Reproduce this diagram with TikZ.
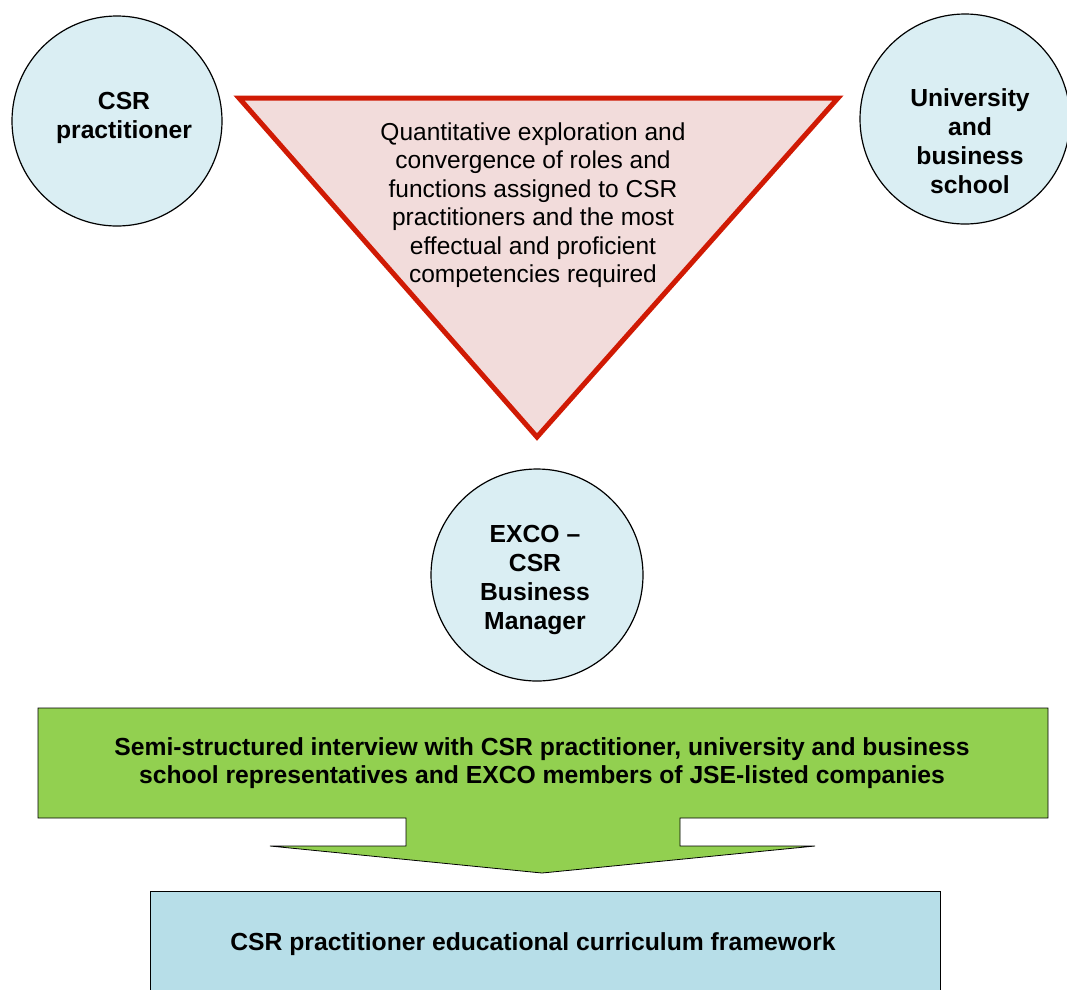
\documentclass[tikz,border=0pt]{standalone}
\usepackage{fontspec}
\setmainfont{Liberation Sans}
\definecolor{circfill}{HTML}{DAEEF3}
\definecolor{trifill}{HTML}{F2DCDB}
\definecolor{trired}{HTML}{D01A04}
\definecolor{greenfill}{HTML}{92D050}
\definecolor{bluefill}{HTML}{B7DEE8}
\begin{document}
\begin{tikzpicture}[x=1pt,y=-1pt,
  actor/.style={circle,draw=black,line width=1.2pt,fill=circfill,minimum size=210pt,inner sep=0pt},
  actortext/.style={align=center,inner sep=0pt,font=\fontsize{24.7}{29}\selectfont\bfseries},
  tritext/.style={align=center,font=\fontsize{24.5}{28.5}\selectfont},
  boxtext/.style={align=center,font=\fontsize{24.7}{28}\selectfont\bfseries}]
\useasboundingbox (0,0) rectangle (1067,989);
% circles
\node[actor] (csr) at (117,121) {};
\node[actortext] (csrtext) at (124,118) {CSR\\practitioner};
\node[actor] (uni) at (965,119) {};
\node[actortext] (unitext) at (970,141) {University\\and\\business\\school};
\node[actor,minimum size=212pt] (exco) at (537,575) {};
\node[actortext] (excotext) at (535,580) {EXCO --\\CSR\\Business\\Manager};
% triangle
\coordinate (tl) at (239,98);
\coordinate (tr) at (838,98);
\coordinate (tb) at (537,437);
\draw[trired,line width=5pt,fill=trifill,line join=miter] (tl) -- (tr) -- (tb) -- cycle;
\node[tritext] (tritxt) at (533,205) {Quantitative exploration and\\convergence of roles and\\functions assigned to CSR\\practitioners and the most\\effectual and proficient\\competencies required};
% green block arrow
\draw[black,line width=0.8pt,fill=greenfill]
  (38,708) -- (1048,708) -- (1048,818) -- (680,818) -- (680,846) -- (815,846)
  -- (542,873) -- (270,846) -- (406,846) -- (406,818) -- (38,818) -- cycle;
\node[boxtext] (interview) at (542,763) {Semi-structured interview with CSR practitioner, university and business\\school representatives and EXCO members of JSE-listed companies};
% blue box
\draw[black,line width=0.8pt,fill=bluefill] (150,1000) -- (150,891) -- (940,891) -- (940,1000);
\node[boxtext] (framework) at (533,944) {CSR practitioner educational curriculum framework};
\end{tikzpicture}
\end{document}
